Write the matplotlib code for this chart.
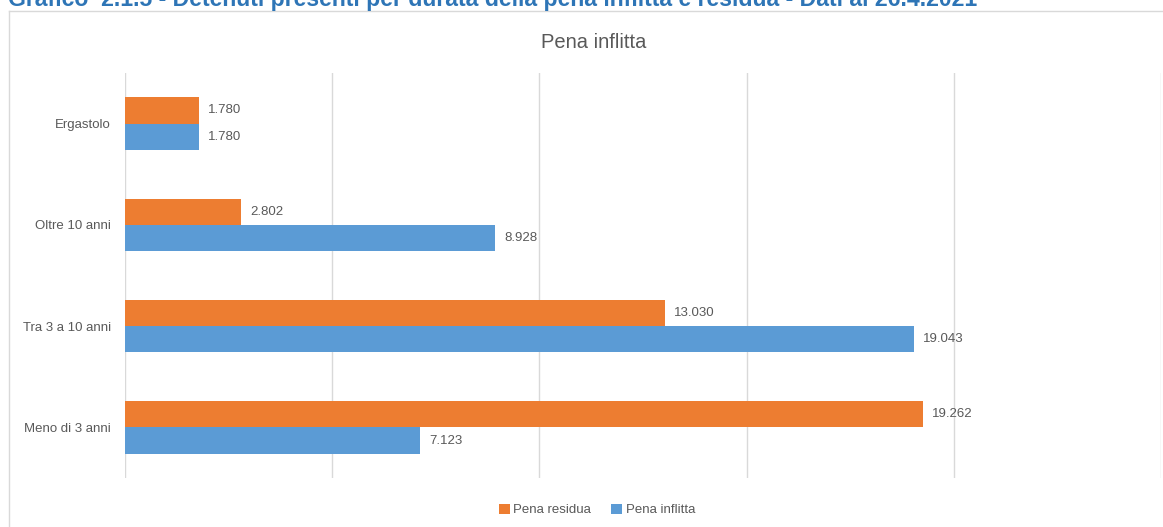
import numpy as np
import matplotlib.pyplot as plt
from matplotlib.lines import Line2D

# data (bottom to top)
categorie = ["Meno di 3 anni", "Tra 3 a 10 anni", "Oltre 10 anni", "Ergastolo"]
pena_residua = [19262, 13030, 2802, 1780]
pena_inflitta = [7123, 19043, 8928, 1780]

arancio = "#ED7D31"
blu = "#5B9BD5"
grigio = "#595959"

plt.rcParams['font.family'] = ['Liberation Sans', 'DejaVu Sans']

W, H = 1163, 527
fig = plt.figure(figsize=(W / 100, H / 100), dpi=100)
ax = fig.add_axes([125 / W, 1 - 478 / H, (1161 - 125) / W, (478 - 73) / H])

y = np.arange(len(categorie))
h = 0.26
b1 = ax.barh(y + h / 2, pena_residua, height=h, color=arancio, label="Pena residua")
b2 = ax.barh(y - h / 2, pena_inflitta, height=h, color=blu, label="Pena inflitta")

def fmt(v):
    return f"{v:,}".replace(",", ".")

for bars, vals in ((b1, pena_residua), (b2, pena_inflitta)):
    for r, v in zip(bars, vals):
        ax.annotate(fmt(v), (r.get_width(), r.get_y() + r.get_height() / 2),
                    xytext=(9, 0), textcoords="offset pixels",
                    va="center", ha="left", fontsize=9.5, color=grigio)

ax.set_xlim(0, 25000)
ax.set_ylim(-0.5, 3.5)
ax.set_xticks(np.arange(0, 25001, 5000))
ax.set_yticks(y)
ax.set_yticklabels(categorie, fontsize=9.5, color=grigio)
ax.tick_params(axis="x", length=0, labelbottom=False)
ax.tick_params(axis="y", length=0, pad=10)
ax.grid(axis="x", color="#D9D9D9", linewidth=1)
ax.set_axisbelow(True)
for s in ax.spines.values():
    s.set_visible(False)

# chart title
fig.text(594 / W, 1 - 42 / H, "Pena inflitta", ha="center", va="center",
         fontsize=14.5, color=grigio)

# document caption, cut at top
fig.text(8 / W, 1 - 6 / H,
         "Grafico  2.1.5 - Detenuti presenti per durata della pena inflitta e residua - Dati al 26.4.2021",
         ha="left", va="baseline", fontsize=16.6, fontweight="bold", color="#2E75B6")

# chart border
fig.add_artist(Line2D([9 / W, 9 / W], [0, 1 - 11 / H], transform=fig.transFigure,
                      color="#D9D9D9", linewidth=1))
fig.add_artist(Line2D([9 / W, 1], [1 - 11 / H, 1 - 11 / H], transform=fig.transFigure,
                      color="#D9D9D9", linewidth=1))

fig.legend(handles=[b1, b2], loc="center", bbox_to_anchor=(597 / W, 1 - 510 / H),
           ncol=2, frameon=False, fontsize=9.5, labelcolor=grigio,
           handlelength=0.8, handleheight=0.8, handletextpad=0.3, columnspacing=1.5)

fig.savefig("out.png", dpi=100)
